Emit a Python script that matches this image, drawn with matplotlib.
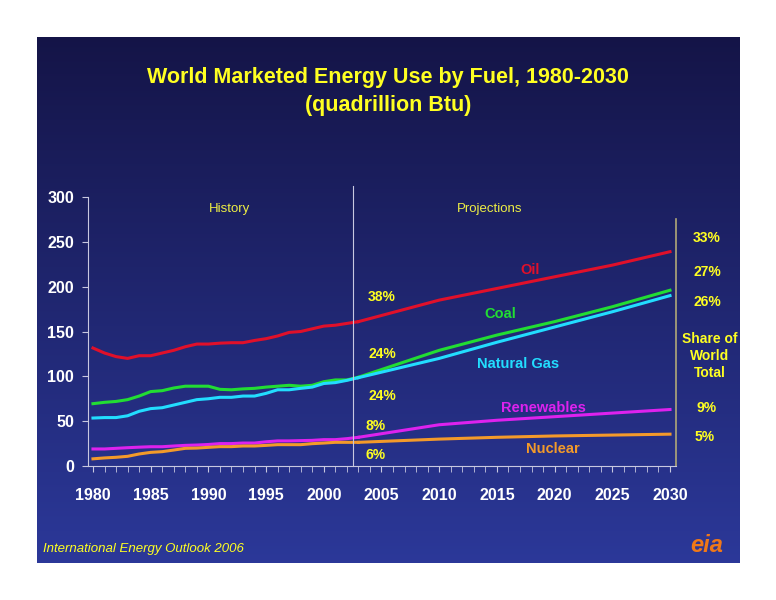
import matplotlib
matplotlib.use("Agg")
import matplotlib.pyplot as plt
import numpy as np

plt.rcParams["font.family"] = ["Liberation Sans", "DejaVu Sans"]

# history 1980-2003, projections at IEO key years
HIST_YEARS = list(range(1980, 2004))
PROJ_YEARS = [2003, 2010, 2015, 2020, 2025, 2030]

OIL_HIST = [131.6, 126, 122, 120, 123, 123, 126, 129, 133, 136, 136, 137, 137.5, 137.5,
            140, 142, 145, 149, 150, 153, 156, 157, 159, 161]
COAL_HIST = [69.5, 71, 72, 74, 78, 83, 84, 87, 89, 89, 89, 85.5, 85, 86,
             86.6, 88, 89, 90, 89, 90, 94, 96, 96, 99]
GAS_HIST = [53.5, 54, 54, 56, 61, 64, 65, 68, 71, 74, 75, 76.6, 76.6, 78,
            78, 81, 85, 85, 86.6, 88, 92, 93, 95.5, 98.5]
RENEW_HIST = [19, 19, 19.7, 20.4, 21, 21.5, 21.5, 22.3, 23, 23.4, 24, 25, 25, 25.6,
              25.6, 27, 28, 28, 28.3, 28.6, 29.4, 29.4, 30.5, 32]
NUC_HIST = [8, 9, 9.7, 10.8, 13.4, 15.2, 16, 17.8, 19.7, 20, 20.8, 21.6, 21.6, 22.3,
            22.3, 23, 23.8, 23.8, 23.8, 24.9, 25.6, 26.4, 26.4, 26.4]

OIL_PROJ = [161, 185, 198, 211, 224, 239]
COAL_PROJ = [99, 129, 146, 161, 177.6, 196]
GAS_PROJ = [98.5, 120, 138, 155, 172, 190]
RENEW_PROJ = [32, 46, 51, 55, 59, 63]
NUC_PROJ = [26.4, 30, 32, 33.5, 34.5, 35.5]

SERIES = [
    ("Oil", OIL_HIST, OIL_PROJ, "#e0102a"),
    ("Coal", COAL_HIST, COAL_PROJ, "#22dd33"),
    ("Natural Gas", GAS_HIST, GAS_PROJ, "#22ddff"),
    ("Renewables", RENEW_HIST, RENEW_PROJ, "#dd22ee"),
    ("Nuclear", NUC_HIST, NUC_PROJ, "#f39a2a"),
]

W, H = 776, 600
fig = plt.figure(figsize=(W / 100, H / 100), dpi=100)
fig.patch.set_facecolor("white")


def fx(x):
    return x / W


def fy(y):
    return 1 - y / H


# slide background gradient
bg = fig.add_axes([fx(37), fy(563), fx(740 - 37), (563 - 37) / H])
grad = np.linspace(0, 1, 256).reshape(-1, 1)
top = np.array([0.08, 0.08, 0.28])
bot = np.array([0.17, 0.22, 0.60])
img = top + (bot - top) * grad[..., None]
bg.imshow(img.reshape(256, 1, 3), aspect="auto", extent=[0, 1, 0, 1], origin="upper")
bg.axis("off")

ax = fig.add_axes([fx(88), fy(466), fx(676 - 88), (466 - 197) / H])
ax.set_facecolor("none")
for name, hist, proj, color in SERIES:
    ax.plot(HIST_YEARS, hist, color=color, lw=2.2)
    ax.plot(PROJ_YEARS, proj, color=color, lw=2.2)

ax.set_xlim(1979.57, 2030.52)
ax.set_ylim(0, 300)
ax.set_xticks(range(1980, 2031, 5))
ax.set_xticks(range(1980, 2031), minor=True)
ax.set_yticks(range(0, 301, 50))
for s in ["top", "right"]:
    ax.spines[s].set_visible(False)
for s in ["left", "bottom"]:
    ax.spines[s].set_color("#c8c8e0")
ax.tick_params(colors="#c8c8e0", labelcolor="white", labelsize=11.5, direction="out", length=4)
ax.tick_params(axis="x", which="minor", colors="#c8c8e0", direction="out", length=4)
ax.tick_params(axis="x", which="major", pad=12)
ax.tick_params(axis="y", pad=6)
for lab in ax.get_xticklabels() + ax.get_yticklabels():
    lab.set_fontweight("bold")
ax.axvline(2002.5, color="#c8c8e0", lw=0.8, ymax=1.04, clip_on=False)
ax.plot([2030.52, 2030.52], [0, 276], color="#b0a878", lw=1.2, clip_on=False)

yel = "#ffff22"
fig.text(fx(388), fy(77), "World Marketed Energy Use by Fuel, 1980-2030", color=yel,
         fontsize=15.5, fontweight="bold", ha="center", va="center")
fig.text(fx(388), fy(106), "(quadrillion Btu)", color=yel,
         fontsize=15.5, fontweight="bold", ha="center", va="center")
fig.text(fx(230), fy(209), "History", color="#eeee44", fontsize=9.5, ha="center", va="center")
fig.text(fx(490), fy(209), "Projections", color="#eeee44", fontsize=9.5, ha="center", va="center")

labels = [("Oil", 530, 270), ("Coal", 500, 314), ("Natural Gas", 518, 364),
          ("Renewables", 543, 408), ("Nuclear", 553, 449)]
for (name, x, y), (_, _, _, color) in zip(labels, SERIES):
    fig.text(fx(x), fy(y), name, color=color, fontsize=10.5, fontweight="bold",
             ha="center", va="center")

for txt, x, y in [("38%", 382, 297), ("24%", 382, 354), ("24%", 382, 396),
                  ("8%", 376, 426), ("6%", 376, 455), ("33%", 707, 238),
                  ("27%", 707, 272), ("26%", 707, 302), ("9%", 707, 408),
                  ("5%", 705, 437)]:
    fig.text(fx(x), fy(y), txt, color=yel, fontsize=10, fontweight="bold",
             ha="center", va="center")
fig.text(fx(710), fy(356), "Share of\nWorld\nTotal", color=yel, fontsize=10,
         fontweight="bold", ha="center", va="center", linespacing=1.25)

fig.text(fx(43), fy(549), "International Energy Outlook 2006", color=yel,
         fontsize=9.5, style="italic", ha="left", va="center")
fig.text(fx(707), fy(546), "eia", color="#f07818", fontsize=17, fontweight="bold",
         style="italic", ha="center", va="center")

fig.savefig("out.png", dpi=100, facecolor=fig.get_facecolor())
